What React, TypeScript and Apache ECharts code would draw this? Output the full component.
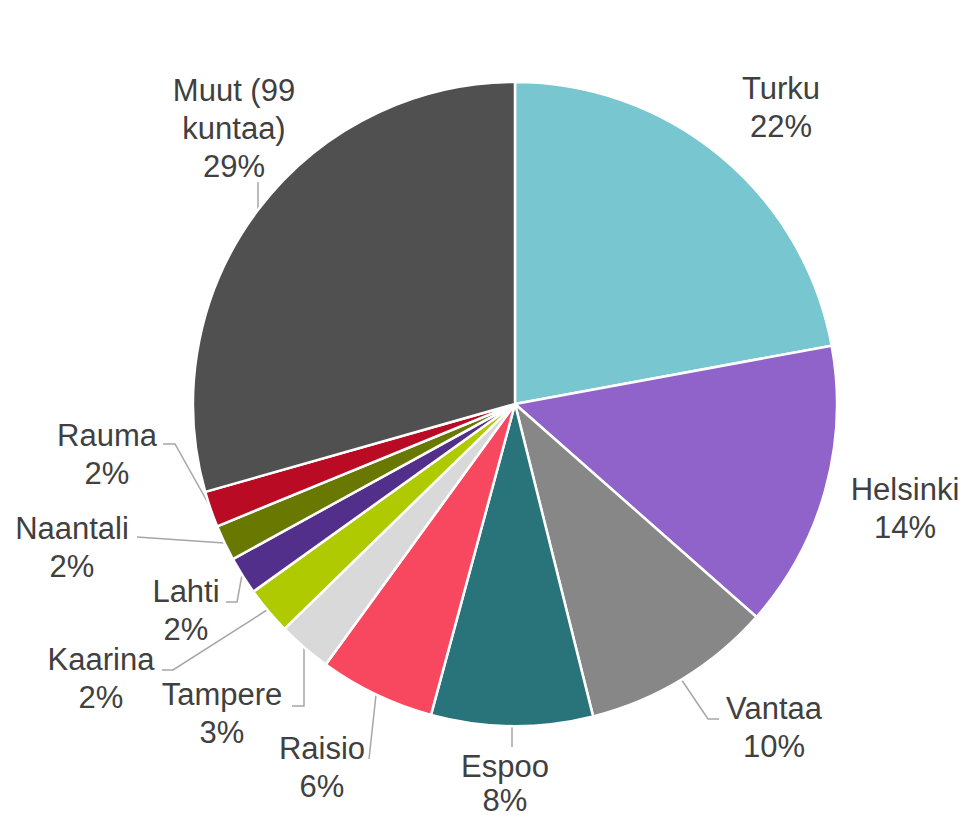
import React, { useEffect, useRef } from "react";
import * as echarts from "echarts";

const categories = ["Turku", "Helsinki", "Vantaa", "Espoo", "Raisio", "Tampere", "Kaarina", "Lahti", "Naantali", "Rauma", "Muut (99\nkuntaa)"];
const values = [22.1, 14.4, 9.6, 8.1, 5.8, 2.7, 2.4, 1.9, 1.8, 1.8, 29.4];
const colors = ["#78C6CF", "#8F63C9", "#878787", "#29737A", "#F7485F", "#D9D9D9", "#AFCA00", "#532F8C", "#687800", "#B90B24", "#505050"];

// label block centres and leader lines (annotation layout, Excel-like)
const labelPos: [number, number][] = [
  [781, 107], [905, 508], [774, 727], [505, 783], [322, 767], [222, 713],
  [101, 678], [186, 610], [72, 547], [107, 454], [234, 128],
];
const leaderLines: ([number, number][] | null)[] = [
  null,
  null,
  [[681, 679], [708, 719], [719, 719]],
  [[512, 726], [512, 747]],
  [[376, 695], [369, 759]],
  [[304, 648], [304, 706], [292, 706]],
  [[267, 610], [173, 670], [162, 670]],
  [[242, 575], [237, 602], [226, 602]],
  [[224, 543], [137, 537]],
  [[212, 510], [175, 444], [163, 444]],
  [[258, 210], [258, 182]],
];

export default function App() {
  const ref = useRef<HTMLDivElement>(null);
  useEffect(() => {
    document.body.style.margin = "0";
    const chart = echarts.init(ref.current!, null, { renderer: "svg" });
    const total = values.reduce((a, b) => a + b, 0);
    chart.setOption({
      animation: false,
      backgroundColor: "#ffffff",
      series: [
        {
          type: "pie",
          center: [515, 404],
          radius: 322,
          startAngle: 90,
          clockwise: true,
          avoidLabelOverlap: false,
          itemStyle: { borderColor: "#ffffff", borderWidth: 2.5 },
          label: {
            show: true,
            position: "outside",
            color: "#404040",
            fontFamily: "Liberation Sans, Arial, sans-serif",
            fontSize: 31,
            lineHeight: 38,
            align: "center",
            formatter: (p: any) => p.name + "\n" + Math.round((p.value / total) * 100) + "%",
          },
          labelLine: { show: true, lineStyle: { color: "#A6A6A6", width: 1.5 } },
          labelLayout: (params: any) => {
            const i = params.dataIndex;
            const pos = labelPos[i];
            const res: any = { x: pos[0], y: pos[1], align: "center", verticalAlign: "middle" };
            if (leaderLines[i]) res.labelLinePoints = leaderLines[i];
            return res;
          },
          data: categories.map((name, i) => ({
            name,
            value: values[i],
            itemStyle: { color: colors[i] },
            labelLine: { show: leaderLines[i] !== null },
            label: i === 3 ? { lineHeight: 34 } : undefined,
          })),
        },
      ],
    });
    return () => chart.dispose();
  }, []);
  return <div ref={ref} style={{ width: 967, height: 818 }} />;
}
